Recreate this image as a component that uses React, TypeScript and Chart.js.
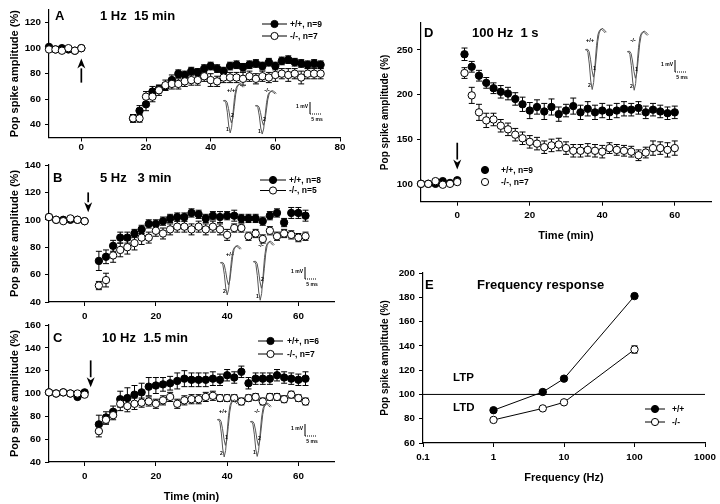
import React, { useEffect, useRef } from 'react';
import { Chart, registerables } from 'chart.js';
Chart.register(...registerables);

const FONT = '"Liberation Sans", Arial, Helvetica, sans-serif';
Chart.defaults.font.family = FONT;

// ---------------- data ----------------
// Panel A: 1 Hz 15 min
const aTime = [-10, -8, -6, -4, -2, 0, 16, 18, 20, 22, 24, 26, 28, 30, 32, 34, 36, 38, 40, 42, 44, 46, 48, 50, 52, 54, 56, 58, 60, 62, 64, 66, 68, 70, 72, 74];
const aWt = [101, 99, 100, 99, 98, 100, 45, 51, 56, 66, 68, 70, 75, 80, 79, 82, 81, 84, 86, 84, 82, 86, 87, 85, 87, 88, 86, 89, 86, 90, 91, 89, 88, 87, 88, 87];
const aKo = [99, 99, 98, 100, 98, 100, 45, 45, 62, 62, 67, 71, 72, 72, 74, 75, 75, 78, 75, 74, 77, 77, 77, 76, 78, 76, 78, 77, 79, 80, 79, 80, 77, 80, 80, 80];
const aWtErr = [1, 1, 1, 1, 1, 1, 3, 4, 5, 4, 3, 3, 4, 3, 3, 3, 3, 3, 3, 3, 3, 3, 3, 3, 3, 3, 3, 3, 3, 3, 3, 3, 3, 3, 3, 3];
const aKoErr = [1, 1, 1, 1, 1, 1, 3, 3, 4, 4, 4, 4, 4, 4, 4, 4, 4, 4, 5, 4, 4, 4, 4, 5, 4, 4, 4, 4, 5, 4, 5, 4, 5, 4, 4, 4];

// Panel B: 5 Hz 3 min
const bTime = [-10, -8, -6, -4, -2, 0, 4, 6, 8, 10, 12, 14, 16, 18, 20, 22, 24, 26, 28, 30, 32, 34, 36, 38, 40, 42, 44, 46, 48, 50, 52, 54, 56, 58, 60, 62];
const bWt = [102, 100, 100, 100, 100, 99, 70, 73, 81, 87, 87, 90, 93, 97, 97, 99, 101, 102, 102, 105, 104, 101, 103, 102, 103, 103, 101, 101, 101, 99, 103, 105, 98, 105, 105, 103];
const bKo = [102, 100, 99, 101, 100, 99, 52, 56, 74, 78, 80, 83, 87, 87, 92, 90, 93, 95, 95, 93, 95, 93, 95, 93, 89, 94, 94, 88, 90, 86, 92, 88, 90, 89, 87, 88];
const bWtErr = [1, 1, 1, 1, 1, 1, 7, 5, 4, 4, 4, 3, 3, 3, 3, 3, 3, 3, 3, 3, 3, 3, 3, 4, 3, 4, 3, 3, 3, 3, 3, 3, 3, 4, 4, 4];
const bKoErr = [1, 1, 1, 1, 1, 1, 3, 5, 5, 5, 5, 5, 5, 4, 4, 4, 4, 4, 4, 4, 4, 4, 4, 4, 4, 3, 3, 3, 3, 3, 3, 3, 3, 3, 3, 3];

// Panel C: 10 Hz 1.5 min
const cTime = [-10, -8, -6, -4, -2, 0, 4, 6, 8, 10, 12, 14, 16, 18, 20, 22, 24, 26, 28, 30, 32, 34, 36, 38, 40, 42, 44, 46, 48, 50, 52, 54, 56, 58, 60, 62];
const cWt = [101, 100, 101, 100, 97, 101, 73, 79, 84, 95, 96, 99, 101, 106, 107, 108, 109, 111, 113, 112, 112, 112, 113, 112, 116, 114, 119, 109, 113, 113, 113, 116, 114, 113, 112, 113];
const cKo = [101, 100, 101, 100, 100, 99, 67, 77, 81, 91, 89, 91, 92, 93, 91, 94, 97, 91, 94, 95, 95, 97, 98, 96, 96, 96, 93, 96, 97, 93, 97, 97, 95, 99, 96, 93];
const cWtErr = [1, 1, 1, 1, 1, 1, 8, 5, 5, 7, 9, 8, 8, 8, 7, 6, 6, 7, 7, 6, 6, 6, 6, 5, 5, 5, 5, 5, 5, 5, 5, 5, 5, 5, 5, 6];
const cKoErr = [1, 1, 1, 1, 1, 1, 5, 4, 4, 6, 5, 5, 4, 4, 4, 4, 4, 4, 4, 4, 4, 4, 4, 3, 3, 3, 3, 3, 3, 3, 3, 3, 3, 3, 3, 3];

// Panel D: 100 Hz 1 s
const dTime = [-10, -8, -6, -4, -2, 0, 2, 4, 6, 8, 10, 12, 14, 16, 18, 20, 22, 24, 26, 28, 30, 32, 34, 36, 38, 40, 42, 44, 46, 48, 50, 52, 54, 56, 58, 60];
const dWt = [100, 100, 100, 103, 101, 104, 245, 231, 221, 213, 207, 203, 201, 195, 189, 182, 186, 181, 186, 178, 182, 187, 180, 184, 180, 182, 180, 182, 184, 183, 185, 180, 183, 181, 179, 180];
const dKo = [100, 100, 103, 99, 100, 102, 224, 199, 180, 171, 172, 165, 161, 155, 151, 147, 145, 141, 143, 144, 140, 137, 137, 138, 137, 136, 140, 138, 137, 136, 132, 135, 140, 140, 138, 140];
const dWtErr = [1, 1, 1, 1, 1, 1, 7, 6, 6, 6, 6, 7, 7, 7, 8, 9, 8, 9, 9, 8, 7, 9, 8, 8, 8, 8, 8, 8, 8, 7, 7, 7, 7, 7, 7, 7];
const dKoErr = [1, 1, 1, 1, 1, 1, 6, 9, 9, 8, 7, 7, 7, 7, 7, 7, 7, 7, 7, 7, 7, 7, 7, 7, 7, 7, 6, 6, 6, 6, 6, 6, 8, 7, 8, 8];

// Panel E: frequency response
const eFreq = [1, 5, 10, 100];
const eWt = [87, 102, 113, 181];
const eKo = [79, 88.5, 93.5, 137];
const eWtErr = [1, 1.5, 1.5, 1.5];
const eKoErr = [1.5, 1, 1.5, 3];
const eRefX = [0.1, 1000];
const eRefY = [100, 100];

// Tick labels
const timeTicksA = [0, 20, 40, 60, 80];
const timeTicks = [0, 20, 40, 60];
const yTicksA = [40, 60, 80, 100, 120];
const yTicksD = [100, 150, 200, 250];
const freqTicks = [0.1, 1, 10, 100, 1000];

// Inset field-potential traces (ms, mV)
const traceMs = [0, 0.6, 1.2, 1.8, 2.4, 3.0, 3.6, 4.2, 4.8, 5.4, 6.0, 6.6, 7.2, 7.8, 8.4];
const traceDeep = [0, 0.05, -0.15, -0.9, -2.0, -2.55, -2.1, -0.9, 0.3, 1.0, 1.25, 1.35, 1.3, 1.2, 1.1];
const traceShallow = [0, 0.05, -0.1, -0.6, -1.3, -1.75, -1.4, -0.45, 0.55, 1.1, 1.3, 1.4, 1.35, 1.25, 1.15];

// ---------------- plugins ----------------
const errorBarPlugin = {
  id: 'errbars',
  beforeDatasetsDraw(chart: any) {
    const ctx = chart.ctx;
    chart.data.datasets.forEach((ds: any, i: number) => {
      const errs = ds.errors;
      if (!errs) return;
      const meta = chart.getDatasetMeta(i);
      const ys = chart.scales[meta.yAxisID];
      ctx.save();
      ctx.strokeStyle = '#000';
      ctx.lineWidth = 1;
      meta.data.forEach((pt: any, j: number) => {
        const e = errs[j];
        if (!e) return;
        const v = ds.data[j].y;
        const x = pt.x;
        const yt = ys.getPixelForValue(v + e);
        const yb = ys.getPixelForValue(v - e);
        ctx.beginPath();
        ctx.moveTo(x, yt); ctx.lineTo(x, yb);
        ctx.moveTo(x - 3, yt); ctx.lineTo(x + 3, yt);
        ctx.moveTo(x - 3, yb); ctx.lineTo(x + 3, yb);
        ctx.stroke();
      });
      ctx.restore();
    });
  },
};

type Item =
  | { kind: 'text'; x: number; y: number; text: string; size: number; align?: CanvasTextAlign }
  | { kind: 'arrow'; x: number; y0: number; y1: number }
  | { kind: 'legend'; lx0?: number; lx1?: number; mx: number; tx: number; y: number; filled: boolean; text: string }
  | { kind: 'trace'; x: number; y: number; sc: number; deep: string; mid: string }
  | { kind: 'scalebar'; x: number; y: number };

function annotPlugin(items: Item[]) {
  return {
    id: 'annot',
    afterDatasetsDraw(chart: any) {
      const ctx: CanvasRenderingContext2D = chart.ctx;
      const xs = chart.scales.x;
      const ys = chart.scales.y;
      ctx.save();
      ctx.fillStyle = '#000';
      ctx.strokeStyle = '#000';
      ctx.textBaseline = 'middle';
      for (const it of items) {
        if (it.kind === 'text') {
          ctx.font = `bold ${it.size}px ${FONT}`;
          ctx.textAlign = it.align || 'left';
          ctx.fillStyle = '#000';
          ctx.fillText(it.text, it.x, it.y);
        } else if (it.kind === 'arrow') {
          const px = xs.getPixelForValue(it.x);
          const p0 = ys.getPixelForValue(it.y0);
          const p1 = ys.getPixelForValue(it.y1);
          const dir = p1 > p0 ? 1 : -1;
          const head = 10;
          ctx.lineWidth = 1.7;
          ctx.beginPath();
          ctx.moveTo(px, p0);
          ctx.lineTo(px, p1 - dir * head);
          ctx.stroke();
          ctx.beginPath();
          ctx.moveTo(px, p1);
          ctx.lineTo(px - 4, p1 - dir * head);
          ctx.lineTo(px, p1 - dir * (head - 3));
          ctx.lineTo(px + 4, p1 - dir * head);
          ctx.closePath();
          ctx.fill();
        } else if (it.kind === 'legend') {
          ctx.lineWidth = 1;
          ctx.strokeStyle = '#000';
          if (it.lx0 !== undefined && it.lx1 !== undefined) {
            ctx.beginPath();
            ctx.moveTo(it.lx0, it.y);
            ctx.lineTo(it.lx1, it.y);
            ctx.stroke();
          }
          ctx.beginPath();
          ctx.arc(it.mx, it.y, 3.6, 0, Math.PI * 2);
          ctx.fillStyle = it.filled ? '#000' : '#fff';
          ctx.fill();
          ctx.stroke();
          ctx.fillStyle = '#000';
          ctx.font = `bold 8.5px ${FONT}`;
          ctx.textAlign = 'left';
          ctx.fillText(it.text, it.tx, it.y + 0.5);
        } else if (it.kind === 'trace') {
          ctx.strokeStyle = '#555';
          ctx.lineWidth = 1;
          ctx.lineJoin = 'round';
          const draw = (vals: number[], shift: number) => {
            ctx.beginPath();
            traceMs.forEach((t, i) => {
              const px = it.x + (t + shift) * 2.4;
              const py = it.y - vals[i] * it.sc;
              if (i === 0) ctx.moveTo(px, py); else ctx.lineTo(px, py);
            });
            ctx.stroke();
          };
          draw(traceDeep, 0);
          draw(traceShallow, 0.5);
          ctx.strokeStyle = '#000';
          ctx.fillStyle = '#000';
          ctx.font = `bold 5px ${FONT}`;
          ctx.textAlign = 'center';
          ctx.fillText(it.deep, it.x + 4.5, it.y + 2.3 * it.sc);
          ctx.fillText(it.mid, it.x + 9.5, it.y + 1.2 * it.sc);
        } else if (it.kind === 'scalebar') {
          ctx.strokeStyle = '#000';
          ctx.lineWidth = 1;
          ctx.beginPath();
          ctx.moveTo(it.x, it.y);
          ctx.lineTo(it.x, it.y + 12);
          ctx.stroke();
          ctx.setLineDash([1, 1]);
          ctx.beginPath();
          ctx.moveTo(it.x, it.y + 12);
          ctx.lineTo(it.x + 12, it.y + 12);
          ctx.stroke();
          ctx.setLineDash([]);
          ctx.fillStyle = '#000';
          ctx.font = `bold 5px ${FONT}`;
          ctx.textAlign = 'right';
          ctx.fillText('1 mV', it.x - 2, it.y + 5);
          ctx.textAlign = 'center';
          ctx.fillText('5 ms', it.x + 7, it.y + 18);
        }
      }
      ctx.restore();
    },
  };
}

// ---------------- config builders ----------------
function series(xs: number[], ys: number[], errs: number[], filled: boolean, line = false) {
  return {
    type: 'scatter',
    data: xs.map((x, i) => ({ x, y: ys[i] })),
    errors: errs,
    showLine: line,
    clip: false,
    borderColor: '#000',
    borderWidth: 1,
    pointBackgroundColor: filled ? '#000' : '#fff',
    pointBorderColor: '#000',
    pointBorderWidth: 1,
    pointRadius: 3.7,
    pointHoverRadius: 3.7,
  };
}

interface Spec {
  left: number; right: number; top: number; bottom: number;
  yW: number; xH: number;
  yTitleSize: number;
  xTitle?: string;
  xTickPad: number;
  x: any; xTicks: number[];
  y: any; yTicks?: number[];
  datasets: any[];
  items: Item[];
}

function buildConfig(s: Spec): any {
  const tickFont = { family: FONT, size: 9.8, weight: 'bold' as const };
  const grid = { drawOnChartArea: false, drawTicks: true, tickLength: 4, color: '#000', lineWidth: 1 };
  const border = { display: true, color: '#000', width: 1.2 };
  return {
    type: 'scatter',
    data: { datasets: s.datasets },
    plugins: [errorBarPlugin, annotPlugin(s.items)],
    options: {
      responsive: false,
      animation: false,
      events: [],
      layout: {
        padding: {
          left: s.left - s.yW,
          right: 720 - s.right,
          top: s.top,
          bottom: 504 - s.bottom - s.xH,
        },
      },
      plugins: { legend: { display: false }, tooltip: { enabled: false } },
      scales: {
        x: {
          ...s.x,
          grid, border,
          afterBuildTicks: (sc: any) => { sc.ticks = s.xTicks.map((v) => ({ value: v })); },
          afterFit: (sc: any) => { sc.height = s.xH; },
          ticks: {
            color: '#000', font: tickFont, padding: s.xTickPad, autoSkip: false, maxRotation: 0,
            callback: (v: any) => String(v),
          },
          title: s.xTitle
            ? { display: true, text: s.xTitle, color: '#000', font: { family: FONT, size: 11, weight: 'bold' }, padding: 0 }
            : { display: false },
        },
        y: {
          ...s.y,
          grid, border,
          ...(s.yTicks ? { afterBuildTicks: (sc: any) => { sc.ticks = s.yTicks!.map((v) => ({ value: v })); } } : {}),
          afterFit: (sc: any) => { sc.width = s.yW; },
          ticks: { color: '#000', font: tickFont, padding: 4, stepSize: 20 },
          title: {
            display: true, text: 'Pop spike amplitude (%)', color: '#000',
            font: { family: FONT, size: s.yTitleSize, weight: 'bold' }, padding: 0,
          },
        },
      },
    },
  };
}

const specA: Spec = {
  left: 49, right: 340, top: 4.5, bottom: 137.5, yW: 40.6, xH: 22, yTitleSize: 11, xTickPad: 0,
  x: { type: 'linear', min: -10, max: 80 }, xTicks: timeTicksA,
  y: { type: 'linear', min: 30, max: 130 }, yTicks: yTicksA,
  datasets: [series(aTime, aKo, aKoErr, false), series(aTime, aWt, aWtErr, true)],
  items: [
    { kind: 'text', x: 55, y: 16, text: 'A', size: 13 },
    { kind: 'text', x: 100, y: 16, text: '1 Hz  15 min', size: 13 },
    { kind: 'arrow', x: 0, y0: 73, y1: 92 },
    { kind: 'legend', lx0: 262, lx1: 287, mx: 274.5, tx: 290, y: 24, filled: true, text: '+/+, n=9' },
    { kind: 'legend', lx0: 262, lx1: 287, mx: 274.5, tx: 290, y: 36, filled: false, text: '-/-, n=7' },
    { kind: 'text', x: 231, y: 90, text: '+/+', size: 6, align: 'center' },
    { kind: 'text', x: 267, y: 90, text: '-/-', size: 6, align: 'center' },
    { kind: 'trace', x: 223, y: 101, sc: 12.5, deep: '1', mid: '2' },
    { kind: 'trace', x: 255, y: 106, sc: 11, deep: '1', mid: '2' },
    { kind: 'scalebar', x: 310, y: 102 },
  ],
};

const specB: Spec = {
  left: 49, right: 334, top: 165, bottom: 302, yW: 40.6, xH: 22, yTitleSize: 11, xTickPad: 4,
  x: { type: 'linear', min: -10, max: 70 }, xTicks: timeTicks,
  y: { type: 'linear', min: 40, max: 140 },
  datasets: [series(bTime, bKo, bKoErr, false), series(bTime, bWt, bWtErr, true)],
  items: [
    { kind: 'text', x: 53, y: 178, text: 'B', size: 13 },
    { kind: 'text', x: 100, y: 178, text: '5 Hz   3 min', size: 13 },
    { kind: 'arrow', x: 1, y0: 120, y1: 105.5 },
    { kind: 'legend', lx0: 260, lx1: 286, mx: 273, tx: 289, y: 180, filled: true, text: '+/+, n=8' },
    { kind: 'legend', lx0: 260, lx1: 286, mx: 273, tx: 289, y: 190.5, filled: false, text: '-/-, n=5' },
    { kind: 'text', x: 230, y: 254, text: '+/+', size: 6, align: 'center' },
    { kind: 'text', x: 261, y: 245, text: '-/-', size: 6, align: 'center' },
    { kind: 'trace', x: 220, y: 263, sc: 12.5, deep: '2', mid: '' },
    { kind: 'trace', x: 253, y: 262, sc: 15, deep: '1', mid: '2' },
    { kind: 'scalebar', x: 305, y: 267 },
  ],
};

const specC: Spec = {
  left: 49, right: 334, top: 325, bottom: 462, yW: 40.6, xH: 41.6, yTitleSize: 11, xTitle: 'Time (min)', xTickPad: 4,
  x: { type: 'linear', min: -10, max: 70 }, xTicks: timeTicks,
  y: { type: 'linear', min: 40, max: 160 },
  datasets: [series(cTime, cKo, cKoErr, false), series(cTime, cWt, cWtErr, true)],
  items: [
    { kind: 'text', x: 53, y: 338, text: 'C', size: 13 },
    { kind: 'text', x: 102, y: 338, text: '10 Hz  1.5 min', size: 13 },
    { kind: 'arrow', x: 1.7, y0: 129, y1: 105.5 },
    { kind: 'legend', lx0: 258, lx1: 283, mx: 270.5, tx: 287, y: 341, filled: true, text: '+/+, n=6' },
    { kind: 'legend', lx0: 258, lx1: 283, mx: 270.5, tx: 287, y: 354, filled: false, text: '-/-, n=7' },
    { kind: 'text', x: 223, y: 411, text: '+/+', size: 6, align: 'center' },
    { kind: 'text', x: 257, y: 411, text: '-/-', size: 6, align: 'center' },
    { kind: 'trace', x: 217, y: 420, sc: 14.5, deep: '2', mid: '1' },
    { kind: 'trace', x: 250, y: 422, sc: 13.5, deep: '1', mid: '2' },
    { kind: 'scalebar', x: 305, y: 424 },
  ],
};

const specD: Spec = {
  left: 421, right: 711, top: 23, bottom: 201.7, yW: 42, xH: 41, yTitleSize: 10, xTitle: 'Time (min)', xTickPad: 4,
  x: { type: 'linear', min: -10, max: 70 }, xTicks: timeTicks,
  y: { type: 'linear', min: 80, max: 280 }, yTicks: yTicksD,
  datasets: [series(dTime, dKo, dKoErr, false), series(dTime, dWt, dWtErr, true)],
  items: [
    { kind: 'text', x: 424, y: 33, text: 'D', size: 13 },
    { kind: 'text', x: 472, y: 33, text: '100 Hz  1 s', size: 13 },
    { kind: 'arrow', x: 0, y0: 146, y1: 116 },
    { kind: 'legend', mx: 485, tx: 501, y: 170, filled: true, text: '+/+, n=9' },
    { kind: 'legend', mx: 485, tx: 501, y: 182, filled: false, text: '-/-, n=7' },
    { kind: 'text', x: 590, y: 40, text: '+/+', size: 6, align: 'center' },
    { kind: 'text', x: 633, y: 40, text: '-/-', size: 6, align: 'center' },
    { kind: 'trace', x: 585, y: 50, sc: 15.5, deep: '2', mid: '1' },
    { kind: 'trace', x: 627, y: 52, sc: 15, deep: '2', mid: '1' },
    { kind: 'scalebar', x: 675, y: 60 },
  ],
};

const refLine = {
  type: 'scatter',
  data: eRefX.map((x, i) => ({ x, y: eRefY[i] })),
  showLine: true,
  borderColor: '#000',
  borderWidth: 1,
  pointRadius: 0,
  pointHoverRadius: 0,
};

const specE: Spec = {
  left: 423, right: 705, top: 273, bottom: 443, yW: 44, xH: 41.6, yTitleSize: 10, xTitle: 'Frequency (Hz)', xTickPad: 4,
  x: { type: 'logarithmic', min: 0.1, max: 1000 }, xTicks: freqTicks,
  y: { type: 'linear', min: 60, max: 200 },
  datasets: [series(eFreq, eKo, eKoErr, false, true), series(eFreq, eWt, eWtErr, true, true), refLine],
  items: [
    { kind: 'text', x: 425, y: 285, text: 'E', size: 13 },
    { kind: 'text', x: 477, y: 285, text: 'Frequency response', size: 13 },
    { kind: 'text', x: 453, y: 378, text: 'LTP', size: 11.5 },
    { kind: 'text', x: 453, y: 408, text: 'LTD', size: 11.5 },
    { kind: 'legend', lx0: 645, lx1: 665, mx: 655, tx: 672, y: 409, filled: true, text: '+/+' },
    { kind: 'legend', lx0: 645, lx1: 665, mx: 655, tx: 672, y: 422, filled: false, text: '-/-' },
  ],
};

function Panel({ spec }: { spec: Spec }) {
  const ref = useRef<HTMLCanvasElement>(null);
  useEffect(() => {
    const chart = new Chart(ref.current as HTMLCanvasElement, buildConfig(spec));
    return () => chart.destroy();
  }, [spec]);
  return (
    <canvas
      ref={ref}
      width={720}
      height={504}
      style={{ position: 'absolute', left: 0, top: 0, width: 720, height: 504 }}
    />
  );
}

export default function App() {
  return (
    <div style={{ position: 'fixed', left: 0, top: 0, width: 720, height: 504, background: '#fff', overflow: 'hidden' }}>
      <Panel spec={specA} />
      <Panel spec={specB} />
      <Panel spec={specC} />
      <Panel spec={specD} />
      <Panel spec={specE} />
    </div>
  );
}
